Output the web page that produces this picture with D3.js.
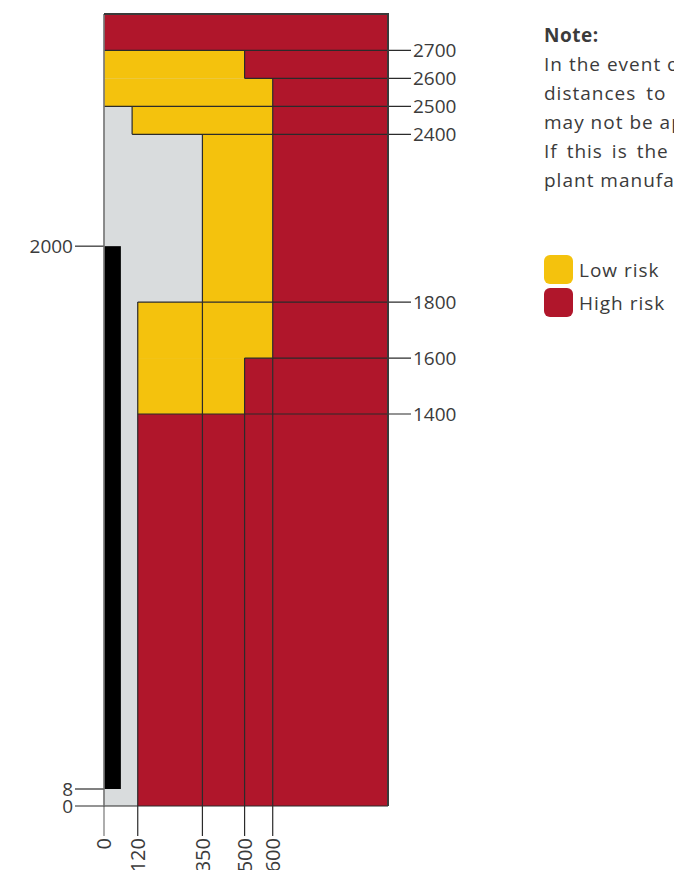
<!DOCTYPE html>
<html>
<head>
<meta charset="utf-8">
<script src="https://cdn.jsdelivr.net/npm/d3@7"></script>
<style>
  html, body { margin: 0; padding: 0; background: #fff; overflow: hidden; }
  svg { display: block; }
  text { font-family: "Open Sans", "DejaVu Sans", sans-serif; fill: #3b3b3b; }
</style>
</head>
<body>
<svg id="chart" width="674" height="870"></svg>
<script>
// distances (mm) along the floor and up the wall
var xMax = 1010,
    yMax = 2830;

// bottom ticks: value + height where the guide line starts
var xTicks   = [0, 120, 350, 500, 600];
var xTickTop = [yMax, 1800, 2400, 1600, 2600];

// right ticks: value + distance where the guide line starts
var yTicks     = [2700, 2600, 2500, 2400, 1800, 1600, 1400];
var yTickStart = [0, 500, 0, 100, 120, 500, 120];

// left ticks
var yTicksLeft = [2000, 8, 0];

// zones [x0, x1, y0, y1]
var highRisk = [
  [0, xMax, 2700, yMax],
  [500, xMax, 2600, 2700],
  [600, xMax, 0, 2600],
  [500, 600, 0, 1600],
  [120, 500, 0, 1400]
];
var lowRisk = [
  [0, 500, 2600, 2700],
  [0, 600, 2500, 2600],
  [100, 600, 2400, 2500],
  [350, 600, 1800, 2400],
  [120, 600, 1600, 1800],
  [120, 500, 1400, 1600]
];
// the appliance itself [x0, x1, y0, y1]
var appliance = [0, 60, 8, 2000];

// extra boundary segments [x0, y0, x1, y1]
var edges = [
  [500, 2600, 500, 2700],
  [100, 2400, 100, 2500]
];

var legendLabels = ["Low risk", "High risk"];
var noteLines = [
  "In the event of deviating installation conditions, the",
  "distances to combustible materials shown here",
  "may not be applicable or may differ.",
  "If this is the case, please contact the",
  "plant manufacturer for further information."
];
// justified look of the note paragraph
var noteWordSpacing = [0, 4, 0, 3, 0];

var colors = { low: "#f4c20d", high: "#b0162b", free: "#d9dcdd", line: "#2b2b2b" };

var svg = d3.select("#chart");

var x = d3.scaleLinear().domain([0, xMax]).range([104, 388]);
// schematic: the first 8 mm are stretched so the gap under the appliance is visible
var y = d3.scaleLinear().domain([0, 8, 1400, yMax]).range([806, 789, 414, 14]);

// background (free area)
svg.append("rect")
  .attr("x", x(0)).attr("y", y(yMax))
  .attr("width", x(xMax) - x(0)).attr("height", y(0) - y(yMax))
  .attr("fill", colors.free);

function drawZones(data, fill) {
  svg.append("g").selectAll("rect")
    .data(data)
    .enter()
      .append("rect")
      .attr("x", function(d) { return x(d[0]); })
      .attr("y", function(d) { return y(d[3]); })
      .attr("width", function(d) { return x(d[1]) - x(d[0]); })
      .attr("height", function(d) { return y(d[2]) - y(d[3]); })
      .attr("fill", fill);
}
drawZones(highRisk, colors.high);
drawZones(lowRisk, colors.low);

// appliance
svg.append("rect")
  .attr("x", x(appliance[0])).attr("y", y(appliance[3]))
  .attr("width", x(appliance[1]) - x(appliance[0]))
  .attr("height", y(appliance[2]) - y(appliance[3]))
  .attr("fill", "#000");

var lines = svg.append("g")
  .attr("stroke", colors.line)
  .attr("stroke-width", 1.2)
  .attr("fill", "none");

// extra boundaries
lines.selectAll(".edge")
  .data(edges)
  .enter()
    .append("line")
    .attr("class", "edge")
    .attr("x1", function(d) { return x(d[0]); })
    .attr("y1", function(d) { return y(d[1]); })
    .attr("x2", function(d) { return x(d[2]); })
    .attr("y2", function(d) { return y(d[3]); });

// right guide lines + labels
var labelX = 411;
lines.selectAll(".hguide")
  .data(yTicks)
  .enter()
    .append("line")
    .attr("class", "hguide")
    .attr("x1", function(d, i) { return x(yTickStart[i]); })
    .attr("x2", labelX)
    .attr("y1", function(d) { return y(d); })
    .attr("y2", function(d) { return y(d); });

svg.append("g").selectAll("text")
  .data(yTicks)
  .enter()
    .append("text")
    .attr("x", labelX + 2)
    .attr("y", function(d) { return y(d); })
    .attr("dy", "0.36em")
    .style("font-size", "19px")
    .text(function(d) { return d; });

// bottom guide lines + labels
var tickBottom = 836;
lines.selectAll(".vguide")
  .data(xTicks)
  .enter()
    .append("line")
    .attr("class", "vguide")
    .attr("x1", function(d) { return x(d); })
    .attr("x2", function(d) { return x(d); })
    .attr("y1", function(d, i) { return y(xTickTop[i]); })
    .attr("y2", tickBottom)
    .attr("stroke", function(d) { return d === 0 ? "#777" : colors.line; });

svg.append("g").selectAll("text")
  .data(xTicks)
  .enter()
    .append("text")
    .attr("transform", function(d) { return "translate(" + x(d) + "," + (tickBottom + 2) + ") rotate(-90)"; })
    .attr("text-anchor", "end")
    .attr("dy", "0.36em")
    .style("font-size", "20px")
    .text(function(d) { return d; });

// left ticks
var leftX = 75;
lines.selectAll(".lguide")
  .data(yTicksLeft)
  .enter()
    .append("line")
    .attr("class", "lguide")
    .attr("x1", leftX)
    .attr("x2", function(d) { return d === 0 ? x(xMax) : x(0); })
    .attr("y1", function(d) { return y(d); })
    .attr("y2", function(d) { return y(d); });

svg.append("g").selectAll("text")
  .data(yTicksLeft)
  .enter()
    .append("text")
    .attr("x", leftX - 2)
    .attr("y", function(d) { return y(d); })
    .attr("dy", "0.36em")
    .attr("text-anchor", "end")
    .style("font-size", "19px")
    .text(function(d) { return d; });

// chart frame
svg.append("path")
  .attr("d", "M" + x(0) + "," + y(yMax) + "H" + x(xMax) + "V" + y(0))
  .attr("stroke", "#3a3a3a").attr("stroke-width", 2).attr("fill", "none");
lines.append("line")
  .attr("x1", x(0)).attr("x2", x(0))
  .attr("y1", y(yMax)).attr("y2", y(0))
  .attr("stroke", "#777");

// note
var note = svg.append("text")
  .attr("x", 544).attr("y", 42)
  .style("font-size", "19px")
  .style("letter-spacing", "1px");
note.append("tspan")
  .attr("x", 544)
  .style("font-weight", "bold")
  .style("letter-spacing", "0.5px")
  .text("Note:");
note.selectAll(".line")
  .data(noteLines)
  .enter()
    .append("tspan")
    .attr("class", "line")
    .attr("x", 544)
    .attr("dy", 29)
    .style("word-spacing", function(d, i) { return noteWordSpacing[i] + "px"; })
    .text(function(d) { return d; });

// legend
var legend = svg.append("g").attr("transform", "translate(544,255)");
var item = legend.selectAll("g")
  .data(legendLabels)
  .enter()
    .append("g")
    .attr("transform", function(d, i) { return "translate(0," + (i * 33) + ")"; });
item.append("rect")
  .attr("width", 29).attr("height", 29)
  .attr("rx", 6)
  .attr("fill", function(d, i) { return i === 0 ? colors.low : colors.high; });
item.append("text")
  .attr("x", 35).attr("y", 15)
  .attr("dy", "0.36em")
  .style("font-size", "19px")
  .style("letter-spacing", "1px")
  .text(function(d) { return d; });
</script>
</body>
</html>
